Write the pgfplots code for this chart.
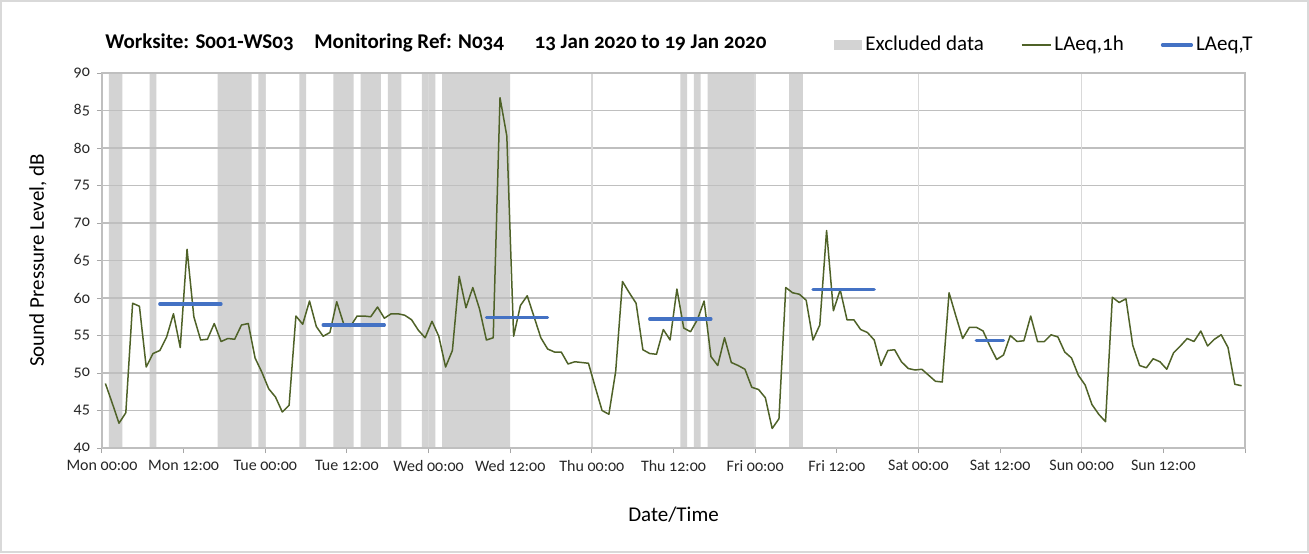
\documentclass[border=0pt]{standalone}
\usepackage{fontspec}
\setmainfont{Carlito}[Numbers=OldStyle]
\usepackage{pgfplots}
\usepackage{pgfplotstable}
\pgfplotsset{compat=1.18}

\definecolor{bandgray}{HTML}{D3D3D3}
\definecolor{hgrid}{HTML}{BFBFBF}
\definecolor{vgrid}{HTML}{D9D9D9}
\definecolor{laeqgreen}{HTML}{4F6228}
\definecolor{laeqblue}{HTML}{4472C4}

% hourly LAeq,1h (hour = middle of the hour)
\pgfplotstableread{
hour laeq
0.5 48.6
1.5 46.0
2.5 43.3
3.5 44.7
4.5 59.3
5.5 58.9
6.5 50.8
7.5 52.6
8.5 53.0
9.5 54.8
10.5 57.9
11.5 53.4
12.5 66.5
13.5 57.5
14.5 54.4
15.5 54.5
16.5 56.6
17.5 54.2
18.5 54.6
19.5 54.5
20.5 56.4
21.5 56.6
22.5 52.0
23.5 50.1
24.5 47.9
25.5 46.8
26.5 44.8
27.5 45.7
28.5 57.6
29.5 56.5
30.5 59.6
31.5 56.2
32.5 54.9
33.5 55.4
34.5 59.5
35.5 56.6
36.5 56.2
37.5 57.6
38.5 57.6
39.5 57.5
40.5 58.8
41.5 57.3
42.5 57.9
43.5 57.9
44.5 57.7
45.5 57.1
46.5 55.7
47.5 54.7
48.5 56.9
49.5 54.9
50.5 50.8
51.5 53.0
52.5 62.9
53.5 58.7
54.5 61.4
55.5 58.5
56.5 54.4
57.5 54.7
58.5 86.7
59.5 81.6
60.5 54.9
61.5 59.0
62.5 60.3
63.5 57.5
64.5 54.7
65.5 53.2
66.5 52.8
67.5 52.8
68.5 51.2
69.5 51.5
70.5 51.4
71.5 51.3
72.5 48.1
73.5 45.0
74.5 44.5
75.5 50.2
76.5 62.2
77.5 60.7
78.5 59.3
79.5 53.1
80.5 52.6
81.5 52.5
82.5 55.8
83.5 54.4
84.5 61.2
85.5 56.0
86.5 55.5
87.5 57.1
88.5 59.6
89.5 52.2
90.5 51.0
91.5 54.7
92.5 51.4
93.5 51.0
94.5 50.5
95.5 48.1
96.5 47.8
97.5 46.7
98.5 42.6
99.5 43.9
100.5 61.4
101.5 60.7
102.5 60.5
103.5 59.7
104.5 54.4
105.5 56.4
106.5 69.0
107.5 58.3
108.5 61.1
109.5 57.1
110.5 57.1
111.5 55.8
112.5 55.4
113.5 54.4
114.5 51.0
115.5 53.0
116.5 53.1
117.5 51.5
118.5 50.6
119.5 50.4
120.5 50.5
121.5 49.7
122.5 48.9
123.5 48.8
124.5 60.7
125.5 57.6
126.5 54.6
127.5 56.1
128.5 56.1
129.5 55.6
130.5 53.6
131.5 51.8
132.5 52.4
133.5 55.0
134.5 54.2
135.5 54.3
136.5 57.6
137.5 54.2
138.5 54.2
139.5 55.1
140.5 54.8
141.5 52.8
142.5 52.0
143.5 49.7
144.5 48.4
145.5 45.8
146.5 44.5
147.5 43.5
148.5 60.1
149.5 59.4
150.5 59.9
151.5 53.7
152.5 51.0
153.5 50.7
154.5 51.9
155.5 51.5
156.5 50.5
157.5 52.7
158.5 53.6
159.5 54.6
160.5 54.2
161.5 55.6
162.5 53.6
163.5 54.5
164.5 55.1
165.5 53.4
166.5 48.5
167.5 48.3
}\hourly

\begin{document}
\begin{tikzpicture}
\begin{axis}[
  name=ax,
  set layers,
  scale only axis,
  width=571.5pt, height=187.5pt,
  xmin=0, xmax=168, ymin=40, ymax=90,
  xtick={0,12,...,168},
  xticklabels={Mon 00:00, Mon 12:00, Tue 00:00, Tue 12:00, Wed 00:00, Wed 12:00, Thu 00:00, Thu 12:00, Fri 00:00, Fri 12:00, Sat 00:00, Sat 12:00, Sun 00:00, Sun 12:00, {}},
  ytick={40,45,...,90},
  ymajorgrids,
  major grid style={draw=hgrid, line width=0.75pt},
  extra x ticks={24,48,...,144},
  extra x tick labels={},
  extra x tick style={xmajorgrids=true, major grid style={draw=vgrid, line width=0.75pt}},
  tick align=outside, tick pos=left,
  major tick length=2.5pt,
  tick style={draw=gray!70, line width=0.5pt},
  axis line style={draw=hgrid, line width=0.75pt},
  ticklabel style={font=\fontsize{8}{9}\selectfont, text=black!85},
  /pgf/number format/assume math mode=true,
  ylabel={Sound Pressure Level, dB},
  ylabel style={at={(axis description cs:-0.056,0.5)}, anchor=center, font=\fontsize{10.5}{12}\selectfont},
  xlabel={Date/Time},
  xlabel style={at={(axis description cs:0.5,-0.179)}, anchor=center, font=\fontsize{10.5}{12}\selectfont},
  legend columns=3,
  legend style={at={(axis description cs:0.6404,1.0747)}, anchor=west, draw=none, fill=none,
    inner sep=0pt, font=\fontsize{10.5}{12}\selectfont,
    nodes={inner sep=1.5pt},
    /tikz/every even column/.append style={column sep=17pt}},
]
% excluded periods as a step area
\addplot[on layer=axis background, const plot, fill=bandgray, draw=none,
  legend image code/.code={\fill[bandgray] (0pt,-2.7pt) rectangle (14pt,2.7pt);}]
  coordinates {(0,40) (1,90) (3,40) (7,90) (8,40) (17,90) (22,40) (23,90) (24,40)
    (29,90) (30,40) (34,90) (37,40) (38,90) (41,40) (42,90) (44,40) (47,90) (49,40)
    (50,90) (60,40) (85,90) (86,40) (87,90) (88,40) (89,90) (96,40) (101,90) (103,40)
    (168,40)} \closedcycle;
\addlegendentry{Excluded data}

\addplot[laeqgreen, line width=0.75pt, line join=round,
  legend image code/.code={\draw[laeqgreen, line width=0.75pt] (0pt,0pt) -- (14.5pt,0pt);}]
  table[x=hour, y=laeq] {\hourly};
\addlegendentry{LAeq,1h}

\addplot[laeqblue, line width=1.6pt, line cap=round, unbounded coords=jump,
  legend image code/.code={\draw[laeqblue, line width=1.6pt] (0pt,0pt) -- (14.5pt,0pt);}]
  coordinates {(8.5,59.2) (17.5,59.2) (17.5,nan)
    (32.5,56.4) (41.5,56.4) (41.5,nan)
    (56.5,57.4) (65.5,57.4) (65.5,nan)
    (80.5,57.2) (89.5,57.2) (89.5,nan)
    (104.5,61.1) (113.5,61.1) (113.5,nan)
    (128.5,54.3) (132.5,54.3)};
\addlegendentry{LAeq,T}
\end{axis}

\node[anchor=west, font=\bfseries\fontsize{10.5}{12}\selectfont, inner sep=0pt]
  at ([shift={(1.5pt,15pt)}]ax.north west)
  {Worksite: S001-WS03\hspace{8pt} Monitoring Ref: N034\hspace{13pt} 13 Jan 2020 to 19 Jan 2020};

\draw[vgrid, line width=0.75pt] ([shift={(-50.6pt,-52.1pt)}]ax.south west) rectangle ([shift={(31.6pt,36.1pt)}]ax.north east);
\pgfresetboundingbox
\path[use as bounding box] ([shift={(-51pt,-52.5pt)}]ax.south west) rectangle ([shift={(32pt,36.5pt)}]ax.north east);
\end{tikzpicture}
\end{document}
